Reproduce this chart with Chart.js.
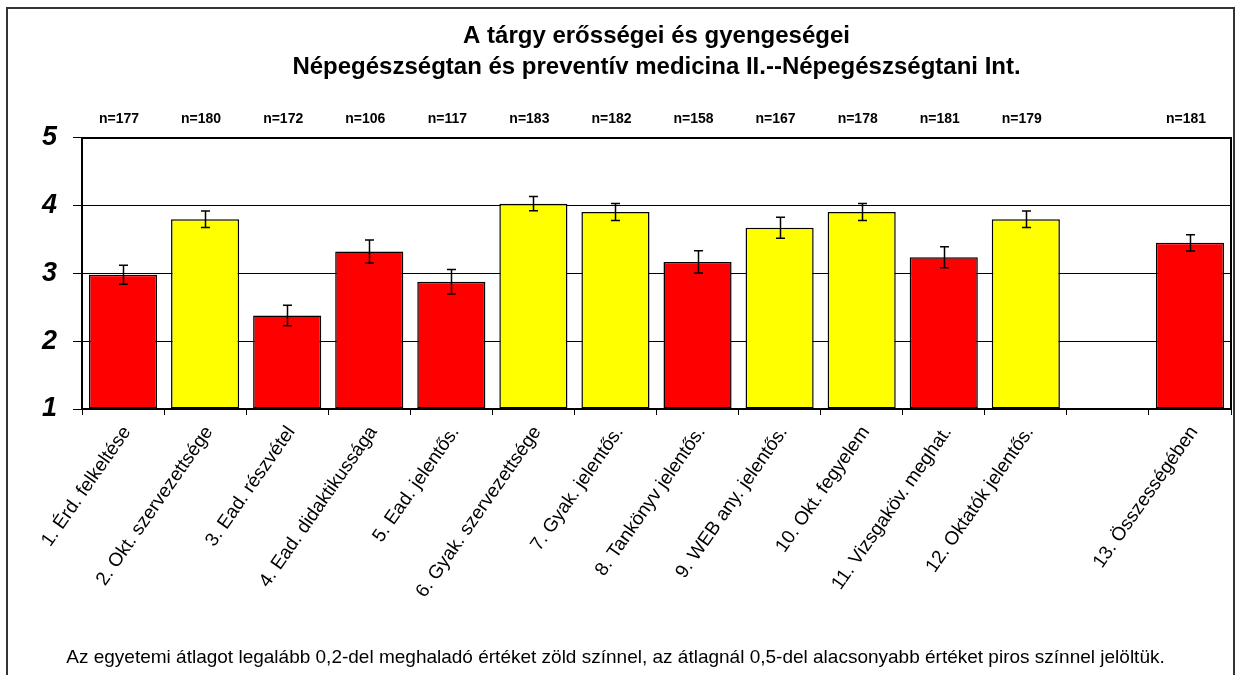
<!DOCTYPE html>
<html>
<head>
<meta charset="utf-8">
<script src="https://cdn.jsdelivr.net/npm/chart.js@4/dist/chart.umd.min.js"></script>
<style>
  html, body { margin: 0; padding: 0; background: #fff; }
  #wrap { width: 1236px; height: 675px; position: relative; }
</style>
</head>
<body>
<div id="wrap"><canvas id="c" width="1236" height="675"></canvas></div>
<script>
// ---- data ----
const titleLines = ['A tárgy erősségei és gyengeségei', 'Népegészségtan és preventív medicina II.--Népegészségtani Int.'];
const footnote = 'Az egyetemi átlagot legalább 0,2-del meghaladó értéket zöld színnel, az átlagnál 0,5-del alacsonyabb értéket piros színnel jelöltük.';
const categories = [
  '1. Érd. felkeltése', '2. Okt. szervezettsége', '3. Ead. részvétel', '4. Ead. didaktikussága',
  '5. Ead. jelentős.', '6. Gyak. szervezettsége', '7. Gyak. jelentős.', '8. Tankönyv jelentős.',
  '9. WEB any. jelentős.', '10. Okt. fegyelem', '11. Vizsgaköv. meghat.', '12. Oktatók jelentős.',
  '', '13. Összességében'
];
const means  = [2.98, 3.80, 2.38, 3.325, 2.877, 4.03, 3.906, 3.17, 3.675, 3.906, 3.24, 3.80, null, 3.453];
const errors = [0.14, 0.12, 0.15, 0.17, 0.18, 0.105, 0.125, 0.165, 0.155, 0.125, 0.155, 0.12, null, 0.12];
const nCounts = [177, 180, 172, 106, 117, 183, 182, 158, 167, 178, 181, 179, null, 181];
const rating = ['low', 'high', 'low', 'low', 'low', 'high', 'high', 'low', 'high', 'high', 'low', 'high', null, 'low'];
const yTickValues = [1, 2, 3, 4, 5];

// ---- styles ----
const FONT = "'Liberation Sans', Arial, Helvetica, sans-serif";
const colorFor = { low: '#FF0000', high: '#FFFF00' };

const framePlugin = {
  id: 'frame',
  beforeDraw(chart) {
    const ctx = chart.ctx;
    ctx.save();
    ctx.fillStyle = '#fff';
    ctx.fillRect(0, 0, chart.width, chart.height);
    ctx.strokeStyle = '#333';
    ctx.lineWidth = 2;
    ctx.strokeRect(7, 8, chart.width - 9, chart.height + 20);
    ctx.restore();
  },
  afterDraw(chart) {
    const ctx = chart.ctx, a = chart.chartArea;
    ctx.save();
    ctx.strokeStyle = '#000';
    ctx.lineWidth = 2;
    ctx.beginPath();
    ctx.moveTo(a.left, a.top);
    ctx.lineTo(a.right, a.top);
    ctx.lineTo(a.right, a.bottom);
    ctx.stroke();
    ctx.restore();
  }
};

const errorBarPlugin = {
  id: 'errorBars',
  afterDatasetsDraw(chart) {
    const ctx = chart.ctx;
    const meta = chart.getDatasetMeta(0);
    const y = chart.scales.y;
    ctx.save();
    ctx.strokeStyle = '#000';
    ctx.lineWidth = 1.5;
    meta.data.forEach((bar, i) => {
      if (means[i] == null || errors[i] == null) return;
      const x = Math.round(bar.x) + 0.5;
      const yHi = y.getPixelForValue(means[i] + errors[i]);
      const yLo = y.getPixelForValue(means[i] - errors[i]);
      ctx.beginPath();
      ctx.moveTo(x, yHi); ctx.lineTo(x, yLo);
      ctx.moveTo(x - 4.5, yHi); ctx.lineTo(x + 4.5, yHi);
      ctx.moveTo(x - 4.5, yLo); ctx.lineTo(x + 4.5, yLo);
      ctx.stroke();
    });
    ctx.restore();
  }
};

const nLabelPlugin = {
  id: 'nLabels',
  afterDraw(chart) {
    const ctx = chart.ctx;
    const meta = chart.getDatasetMeta(0);
    ctx.save();
    ctx.fillStyle = '#000';
    ctx.font = 'bold 14px ' + FONT;
    ctx.textAlign = 'center';
    ctx.textBaseline = 'middle';
    meta.data.forEach((bar, i) => {
      if (nCounts[i] == null) return;
      ctx.fillText('n=' + nCounts[i], bar.x - 4, chart.chartArea.top - 19);
    });
    ctx.restore();
  }
};

new Chart(document.getElementById('c'), {
  type: 'bar',
  data: {
    labels: categories,
    datasets: [{
      data: means,
      base: 1,
      backgroundColor: rating.map(r => r ? colorFor[r] : 'transparent'),
      borderColor: '#000',
      borderWidth: 1.5,
      borderSkipped: false,
      categoryPercentage: 0.83,
      barPercentage: 1.0
    }]
  },
  options: {
    responsive: false,
    devicePixelRatio: 1,
    animation: false,
    layout: { padding: { left: 0, right: 5, top: 0, bottom: 0 } },
    plugins: {
      legend: { display: false },
      tooltip: { enabled: false },
      title: {
        display: true,
        text: titleLines,
        fullSize: false,
        color: '#000',
        font: { family: FONT, size: 24, weight: 'bold', lineHeight: 1.29 },
        padding: { top: 21, bottom: 55 }
      },
      subtitle: {
        display: true,
        position: 'bottom',
        text: footnote,
        color: '#000',
        font: { family: FONT, size: 19, weight: 'normal', lineHeight: 1.2 },
        padding: { top: 4, bottom: 6 }
      }
    },
    scales: {
      x: {
        grid: { display: true, drawOnChartArea: false, drawTicks: true, tickLength: 6, color: '#000', offset: true },
        border: { display: true, color: '#000', width: 2 },
        ticks: {
          autoSkip: false,
          minRotation: 55,
          maxRotation: 55,
          padding: 7,
          labelOffset: 4,
          color: '#000',
          font: { family: FONT, size: 19 }
        },
        afterFit(scale) { scale.height = 233.2; }
      },
      y: {
        min: 1,
        max: 5,
        afterBuildTicks(scale) { scale.ticks = yTickValues.map(v => ({ value: v })); },
        grid: { color: '#000', lineWidth: 1, drawTicks: true, tickLength: 9 },
        border: { display: true, color: '#000', width: 2 },
        ticks: {
          padding: 16,
          color: '#000',
          font: { family: FONT, size: 27, weight: 'bold', style: 'italic' }
        },
        afterFit(scale) { scale.width = 82; }
      }
    }
  },
  plugins: [framePlugin, errorBarPlugin, nLabelPlugin]
});
</script>
</body>
</html>
